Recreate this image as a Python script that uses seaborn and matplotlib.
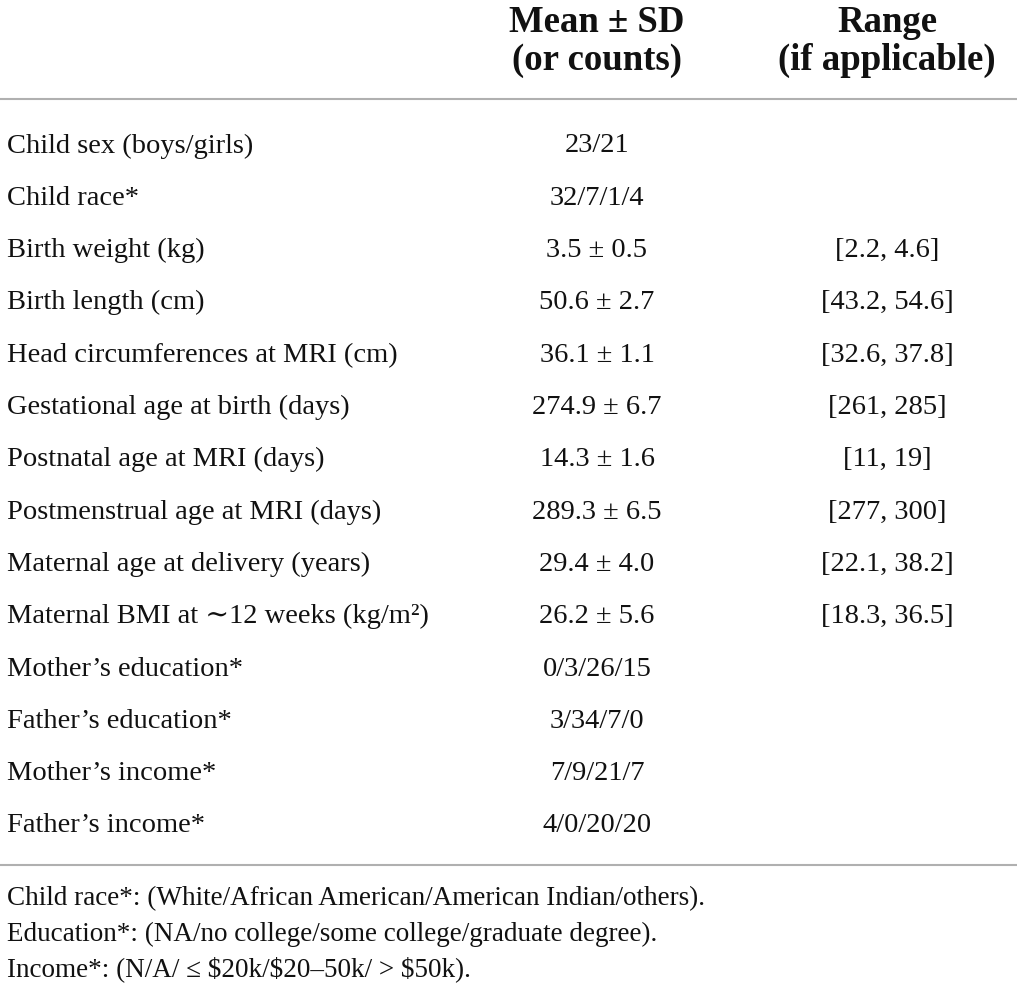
import seaborn as sns
import matplotlib.pyplot as plt

# table content
row_labels = [
    "Child sex (boys/girls)",
    "Child race*",
    "Birth weight (kg)",
    "Birth length (cm)",
    "Head circumferences at MRI (cm)",
    "Gestational age at birth (days)",
    "Postnatal age at MRI (days)",
    "Postmenstrual age at MRI (days)",
    "Maternal age at delivery (years)",
    "Maternal BMI at \u223c12 weeks (kg/m\u00b2)",
    "Mother\u2019s education*",
    "Father\u2019s education*",
    "Mother\u2019s income*",
    "Father\u2019s income*",
]
mean_sd = [
    "23/21", "32/7/1/4", "3.5 \u00b1 0.5", "50.6 \u00b1 2.7", "36.1 \u00b1 1.1",
    "274.9 \u00b1 6.7", "14.3 \u00b1 1.6", "289.3 \u00b1 6.5", "29.4 \u00b1 4.0",
    "26.2 \u00b1 5.6", "0/3/26/15", "3/34/7/0", "7/9/21/7", "4/0/20/20",
]
ranges = [
    "", "", "[2.2, 4.6]", "[43.2, 54.6]", "[32.6, 37.8]", "[261, 285]",
    "[11, 19]", "[277, 300]", "[22.1, 38.2]", "[18.3, 36.5]", "", "", "", "",
]
headers = ["Mean \u00b1 SD\n(or counts)", "Range\n(if applicable)"]
footnotes = [
    "Child race*: (White/African American/American Indian/others).",
    "Education*: (NA/no college/some college/graduate degree).",
    "Income*: (N/A/ \u2264 $20k/$20\u201350k/ > $50k).",
]

sns.set_style("white")
plt.rcParams['font.family'] = ['Liberation Serif', 'DejaVu Serif']

fig = plt.figure(figsize=(10.17, 9.92), dpi=100)
ax = fig.add_axes([0, 0, 1, 1])
ax.set_xlim(0, 1017)
ax.set_ylim(992, 0)
ax.axis("off")

col_x = [7, 597, 887]
row_y0, row_dy = 146, 52.3
body_fs = 20.5

# header
for x, h in zip(col_x[1:], headers):
    ax.text(x, 41.5, h, ha="center", va="center", fontsize=26.5, fontweight="bold",
            linespacing=1.1, color="#111111")

ax.axhline(99, color="#b0b0b0", lw=1.5)
ax.axhline(865, color="#b0b0b0", lw=1.5)

for i, (lab, m, r) in enumerate(zip(row_labels, mean_sd, ranges)):
    y = row_y0 + i * row_dy
    ax.text(col_x[0], y, lab, ha="left", va="center", fontsize=body_fs, color="#111111")
    ax.text(col_x[1], y, m, ha="center", va="center", fontsize=body_fs, color="#111111")
    if r:
        ax.text(col_x[2], y, r, ha="center", va="center", fontsize=body_fs, color="#111111")

for j, note in enumerate(footnotes):
    ax.text(col_x[0], 899 + j * 35, note, ha="left", va="center", fontsize=19.5,
            color="#111111")

fig.savefig("out.png", dpi=100)
